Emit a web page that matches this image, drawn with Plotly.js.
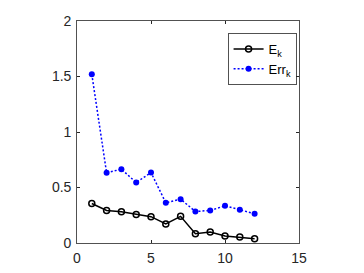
<!DOCTYPE html>
<html><head><meta charset="utf-8">
<script src="https://cdn.plot.ly/plotly-3.0.1.min.js"></script>
<style>html,body{margin:0;padding:0;background:#fff;}#c{width:364px;height:273px;}</style>
</head><body><div id="c"></div>
<script>
const k = [1,2,3,4,5,6,7,8,9,10,11,12];
const E = [0.356,0.293,0.281,0.257,0.237,0.171,0.240,0.084,0.099,0.063,0.054,0.039];
const Err = [1.52,0.632,0.665,0.545,0.635,0.362,0.395,0.284,0.293,0.335,0.300,0.263];
const xTicks = [0,5,10,15];
const yTicks = [0,0.5,1,1.5,2];
const yLabels = ['0','0.5','1','1.5','2'];

const traces = [
 {x:k, y:E, name:'E<sub>k</sub>', mode:'lines+markers', type:'scatter',
  line:{color:'#000', width:1.5}, marker:{symbol:'circle-open', size:6, color:'#000', line:{width:1.5}}},
 {x:k, y:Err, name:'Err<sub>k</sub>', mode:'lines+markers', type:'scatter',
  line:{color:'#0000ff', width:1.5, dash:'2px,2px'}, marker:{symbol:'circle', size:6, color:'#0000ff'}}
];
const ax = {showgrid:false, zeroline:false, showline:true, mirror:'ticks', linecolor:'#262626', linewidth:0.8,
  ticks:'inside', ticklen:3, tickcolor:'#262626', ticklabelstandoff:2,
  tickfont:{family:'Liberation Sans, Arial', size:14, color:'#262626'}};
const layout = {
  width:364, height:273, paper_bgcolor:'#fff', plot_bgcolor:'#fff',
  margin:{l:77, r:65, t:21, b:30},
  showlegend:true,
  legend:{x:0.99, y:0.945, xanchor:'right', yanchor:'top', bordercolor:'#262626', borderwidth:0.8,
    bgcolor:'#fff', font:{family:'Liberation Sans, Arial', size:13, color:'#000'}, tracegroupgap:0, itemwidth:30},
  xaxis:Object.assign({}, ax, {range:[0,15], tickvals:xTicks, ticktext:xTicks.map(String)}),
  yaxis:Object.assign({}, ax, {range:[0,2], tickvals:yTicks, ticktext:yLabels})
};
Plotly.newPlot('c', traces, layout, {staticPlot:true, displayModeBar:false});
</script></body></html>
